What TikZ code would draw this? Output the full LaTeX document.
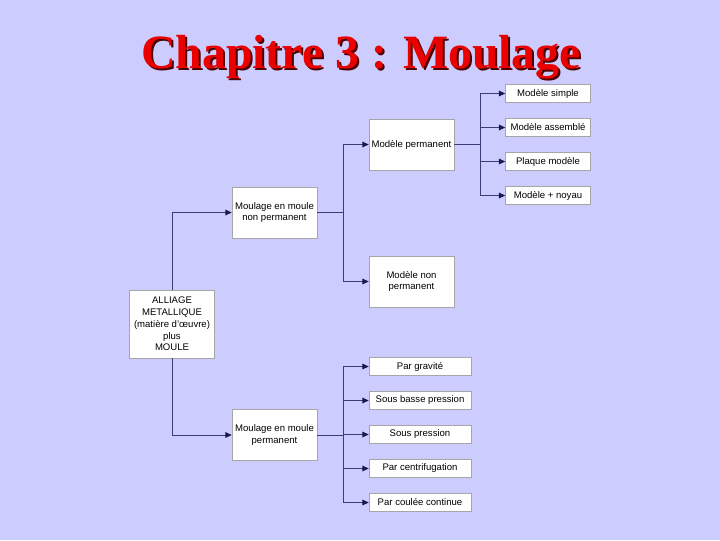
\documentclass[tikz,border=0pt]{standalone}
\usepackage{fontspec}
\setmainfont{Liberation Sans}
\newfontfamily\titlefont{Liberation Serif}
\usetikzlibrary{arrows.meta,positioning}
\definecolor{slide}{RGB}{204,204,255}
\definecolor{linkcol}{RGB}{60,60,120}
\definecolor{tipcol}{RGB}{25,25,75}
\definecolor{titlered}{RGB}{235,0,0}
\tikzset{%
	box/.style  = {draw=gray!70, fill=white, minimum width=85\unitpx, minimum height=51\unitpx, align=center, inner sep=1pt, font=\fontsize{6.8}{8.4}\selectfont},
	leaf/.style = {box, minimum height=17.5\unitpx},
	link/.style = {draw=linkcol, line width=0.65pt},
	arrow/.style= {link, -{Triangle[length=4.5pt,width=4pt,color=tipcol,fill=tipcol]}},
}
\newcommand{\unitpx}{*0.7113pt}
\begin{document}
\begin{tikzpicture}[x=0.025cm,y=-0.025cm]
	\fill[slide] (0,0) rectangle (720,540);
	\useasboundingbox (0,0) rectangle (720,540);
	% title
	\node[anchor=base, text=black!70!red, font=\titlefont\bfseries\fontsize{34}{40}\selectfont] (titleshadow) at (363,70) {Chapitre 3 : Moulage};
	\node[anchor=base, text=titlered, font=\titlefont\bfseries\fontsize{34}{40}\selectfont] (title) at (361,68) {Chapitre 3 : Moulage};
	
	% boxes
	\node[box, minimum height=68\unitpx] (alliage) at (172,324) {ALLIAGE\\METALLIQUE\\(matière d'œuvre)\\plus\\MOULE};
	\node[box] (nonperm) at (274.5,212.5) {Moulage en moule\\non permanent};
	\node[box] (perm) at (274.5,435) {Moulage en moule\\permanent};
	\node[box] (modperm) at (411.5,144.5) {Modèle permanent};
	\node[box] (modnonperm) at (411.5,281.5) {Modèle non\\permanent};
	\node[leaf] (simple) at (548,93.5) {Modèle simple};
	\node[leaf] (assemble) at (548,127.5) {Modèle assemblé};
	\node[leaf] (plaque) at (548,161.5) {Plaque modèle};
	\node[leaf] (noyau) at (548,195.5) {Modèle + noyau};
	\node[leaf, minimum width=102\unitpx] (gravite) at (420,366.5) {Par gravité};
	\node[leaf, minimum width=102\unitpx] (basse) at (420,400.5) {Sous basse pression};
	\node[leaf, minimum width=102\unitpx] (pression) at (420,434.5) {Sous pression};
	\node[leaf, minimum width=102\unitpx] (centri) at (420,468.5) {Par centrifugation};
	\node[leaf, minimum width=102\unitpx] (coulee) at (420,502.5) {Par coulée continue};
	
	% connectors
	\draw[arrow] (alliage.north) |- (nonperm.west);
	\draw[arrow] (alliage.south) |- (perm.west);
	
	\draw[link] (nonperm.east) -- ++(26,0) coordinate (fa);
	\foreach \n in {modperm,modnonperm}
		\draw[arrow] (fa) |- (\n.west);
	
	\draw[link] (modperm.east) -- ++(26,0) coordinate (fb);
	\foreach \n in {simple,assemble,plaque,noyau}
		\draw[arrow] (fb) |- (\n.west);
	
	\draw[link] (perm.east) -- ++(26,0) coordinate (fc);
	\foreach \n in {gravite,basse,pression,centri,coulee}
		\draw[arrow] (fc) |- (\n.west);
\end{tikzpicture}
\end{document}
